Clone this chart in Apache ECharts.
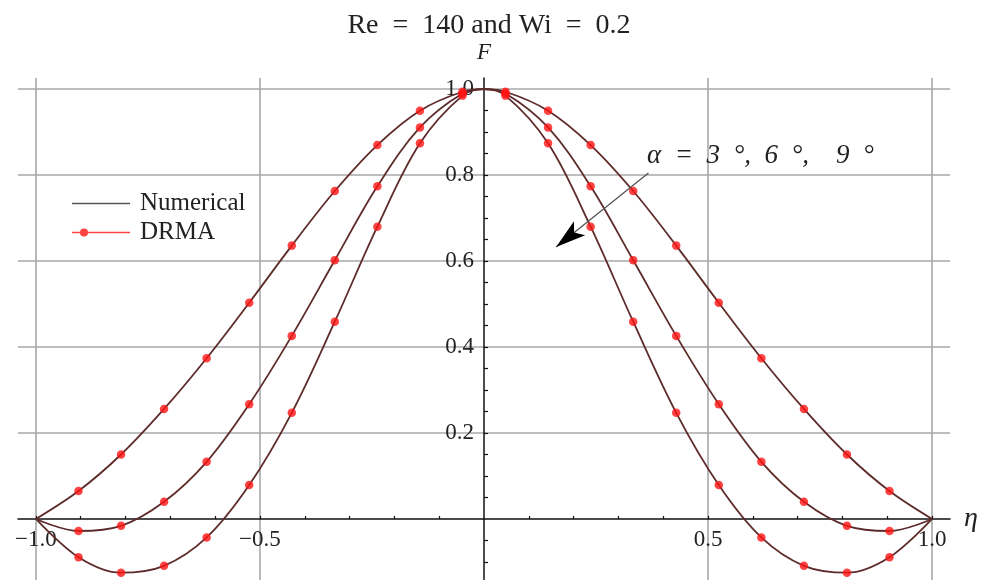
<!DOCTYPE html>
<html>
<head>
<meta charset="utf-8">
<script src="https://cdn.jsdelivr.net/npm/echarts@6/dist/echarts.min.js"></script>
<style>
  html, body { margin: 0; padding: 0; background: #ffffff; }
  #chart { width: 990px; height: 580px; }
</style>
</head>
<body>
<div id="chart"></div>
<script>
// Collocation points of the DRMA solution (eta = ±(2k+1)/21)
const etaNodes = [-0.905, -0.810, -0.714, -0.619, -0.524, -0.429, -0.333, -0.238, -0.143, -0.048,
                   0.048,  0.143,  0.238,  0.333,  0.429,  0.524,  0.619,  0.714,  0.810,  0.905];

// DRMA velocity profile F(eta) for alpha = 3, 6, 9 degrees
const drma3 = [0.065, 0.150, 0.256, 0.374, 0.503, 0.636, 0.763, 0.870, 0.950, 0.994,
               0.994, 0.950, 0.870, 0.763, 0.636, 0.503, 0.374, 0.256, 0.150, 0.065];
const drma6 = [-0.028, -0.016, 0.040, 0.133, 0.267, 0.426, 0.602, 0.774, 0.911, 0.990,
                0.990,  0.911, 0.774, 0.602, 0.426, 0.267, 0.133, 0.040, -0.016, -0.028];
const drma9 = [-0.089, -0.125, -0.109, -0.043, 0.079, 0.247, 0.459, 0.680, 0.874, 0.985,
                0.985,  0.874,  0.680,  0.459, 0.247, 0.079, -0.043, -0.109, -0.125, -0.089];

// Numerical solution, sampled on the walls, the centreline and the nodes
const etaLine = [-1.0, -0.905, -0.810, -0.714, -0.619, -0.524, -0.429, -0.333, -0.238, -0.143, -0.048, 0.0,
                  0.048, 0.143, 0.238, 0.333, 0.429, 0.524, 0.619, 0.714, 0.810, 0.905, 1.0];
const numerical3 = [0, 0.065, 0.150, 0.256, 0.374, 0.503, 0.636, 0.763, 0.870, 0.950, 0.994, 1.0,
                    0.994, 0.950, 0.870, 0.763, 0.636, 0.503, 0.374, 0.256, 0.150, 0.065, 0];
const numerical6 = [0, -0.028, -0.016, 0.040, 0.133, 0.267, 0.426, 0.602, 0.774, 0.911, 0.990, 1.0,
                    0.990, 0.911, 0.774, 0.602, 0.426, 0.267, 0.133, 0.040, -0.016, -0.028, 0];
const numerical9 = [0, -0.089, -0.125, -0.109, -0.043, 0.079, 0.247, 0.459, 0.680, 0.874, 0.985, 1.0,
                    0.985, 0.874, 0.680, 0.459, 0.247, 0.079, -0.043, -0.109, -0.125, -0.089, 0];

// Axis ticks, labels and grid lines
const xTickValues = [-1.0, -0.9, -0.8, -0.7, -0.6, -0.5, -0.4, -0.3, -0.2, -0.1, 0.1, 0.2, 0.3, 0.4, 0.5, 0.6, 0.7, 0.8, 0.9, 1.0];
const xLabelValues = [-1.0, -0.5, 0.5, 1.0];
const yTickValues = [-0.1, -0.05, 0.05, 0.1, 0.15, 0.2, 0.25, 0.3, 0.35, 0.4, 0.45, 0.5, 0.55, 0.6, 0.65, 0.7, 0.75, 0.8, 0.85, 0.9, 0.95, 1.0];
const yLabelValues = [0.2, 0.4, 0.6, 0.8, 1.0];
const gridXValues = [-1.0, -0.5, 0.5, 1.0];
const gridYValues = [0.2, 0.4, 0.6, 0.8, 1.0];

// Arrow pointing in the direction of increasing alpha
const arrowFrom = [0.367, 0.805];
const arrowTo = [0.161, 0.633];

// Plot area and axis ranges
const GRID = { left: 18, right: 40, top: 78, bottom: 0 };
const X_RANGE = [-1.04, 1.04];
const Y_RANGE = [-0.142, 1.026];
const W = 990, H = 580;
const plotW = W - GRID.left - GRID.right;
const plotH = H - GRID.top - GRID.bottom;
// Axes cross at the origin: shift them inward from the grid border
const yAxisOffset = -plotW * (0 - X_RANGE[0]) / (X_RANGE[1] - X_RANGE[0]);
const xAxisOffset = -plotH * (0 - Y_RANGE[0]) / (Y_RANGE[1] - Y_RANGE[0]);

const SERIF = '"Liberation Serif", "Times New Roman", serif';
const CURVE = '#5e2b2b';
const DOT = '#ff1414';
const EN = '\u2002';

const zip = (xs, ys) => xs.map((x, i) => [x, ys[i]]);
const fmt = v => (v < 0 ? '\u2212' : '') + Math.abs(v).toFixed(1);

function numericalSeries(values) {
  return {
    type: 'line', name: 'Numerical', data: zip(etaLine, values),
    smooth: 0.35, symbol: 'none', z: 2,
    itemStyle: { color: CURVE },
    lineStyle: { color: CURVE, width: 1.8 }
  };
}
function drmaSeries(values) {
  return {
    type: 'scatter', name: 'DRMA', data: zip(etaNodes, values),
    symbol: 'circle', symbolSize: 8.5, z: 3,
    itemStyle: { color: DOT }
  };
}

const chart = echarts.init(document.getElementById('chart'), null, { renderer: 'canvas' });

chart.setOption({
  animation: false,
  backgroundColor: '#ffffff',
  title: {
    text: 'Re' + EN + '=' + EN + '140 and Wi' + EN + '=' + EN + '0.2',
    left: 484, top: 7, textAlign: 'center',
    textStyle: { fontFamily: SERIF, fontSize: 28, fontWeight: 'normal', color: '#222' }
  },
  legend: {
    orient: 'vertical', left: 72, top: 191, padding: 0,
    itemWidth: 58, itemHeight: 10, itemGap: 4,
    selectedMode: false,
    textStyle: { fontFamily: SERIF, fontSize: 25, color: '#222', padding: [0, 0, 0, 5] },
    data: [
      { name: 'Numerical',
        icon: 'path://M0,0h0.01v0.01h-0.01Z M0,4.2H58V5.8H0Z M57.99,9.99h0.01v0.01h-0.01Z',
        itemStyle: { color: '#555555', borderWidth: 0 } },
      { name: 'DRMA',
        icon: 'path://M0,0h0.01v0.01h-0.01Z M0,4.3H58V5.7H0Z M8,5a4,4 0 1,1 8,0a4,4 0 1,1 -8,0Z M57.99,9.99h0.01v0.01h-0.01Z',
        itemStyle: { color: DOT, borderWidth: 0 } }
    ]
  },
  grid: { left: GRID.left, right: GRID.right, top: GRID.top, bottom: GRID.bottom,
          containLabel: false, outerBoundsMode: 'none' },
  xAxis: {
    type: 'value', min: X_RANGE[0], max: X_RANGE[1],
    position: 'bottom', offset: xAxisOffset,
    name: '\u03b7', nameLocation: 'end', nameGap: 14,
    nameTextStyle: { fontFamily: SERIF, fontStyle: 'italic', fontSize: 28, color: '#222' },
    axisLine: { onZero: false, lineStyle: { color: '#111', width: 1.5 } },
    axisTick: { inside: true, length: 3, customValues: xTickValues, lineStyle: { color: '#111', width: 1.2 } },
    axisLabel: { customValues: xLabelValues, formatter: fmt, margin: 9,
                 fontFamily: SERIF, fontSize: 23, color: '#222' },
    splitLine: { show: false }
  },
  yAxis: {
    type: 'value', min: Y_RANGE[0], max: Y_RANGE[1],
    position: 'left', offset: yAxisOffset,
    name: 'F', nameLocation: 'end', nameGap: 14,
    nameTextStyle: { fontFamily: SERIF, fontStyle: 'italic', fontSize: 23, color: '#222' },
    axisLine: { onZero: false, lineStyle: { color: '#111', width: 1.5 } },
    axisTick: { inside: true, length: 4, customValues: yTickValues, lineStyle: { color: '#111', width: 1.2 } },
    axisLabel: { customValues: yLabelValues, formatter: v => v.toFixed(1), margin: 10,
                 fontFamily: SERIF, fontSize: 23, color: '#222' },
    splitLine: { show: false }
  },
  graphic: [{
    id: 'alphaText', type: 'text', x: 647, y: 156, z: 10,
    style: {
      text: '\u03b1' + EN + '=' + EN + '3' + EN + '\u00b0,' + EN + '6' + EN + '\u00b0,' + EN + EN + '9' + EN + '\u00b0',
      font: 'italic 27px ' + SERIF, fill: '#222', align: 'left', verticalAlign: 'middle'
    }
  }],
  series: [
    {
      type: 'line', name: 'gridlines', data: [], silent: true,
      markLine: {
        silent: true, symbol: 'none', z: -1,
        label: { show: false },
        lineStyle: { color: '#a8a8a8', width: 1.6, type: 'solid' },
        emphasis: { disabled: true },
        data: gridXValues.map(v => ({ xAxis: v })).concat(gridYValues.map(v => ({ yAxis: v })))
      }
    },
    numericalSeries(numerical3),
    numericalSeries(numerical6),
    numericalSeries(numerical9),
    drmaSeries(drma3),
    drmaSeries(drma6),
    drmaSeries(drma9),
    {
      type: 'line', name: 'arrow', data: [], silent: true,
      markLine: {
        silent: true, z: 6, symbol: 'none',
        label: { show: false },
        lineStyle: { color: '#555', width: 1.3, type: 'solid' },
        emphasis: { disabled: true },
        data: [[{ coord: arrowFrom }, { coord: arrowTo }]]
      }
    }
  ]
});

// Filled arrowhead at the end of the alpha arrow, placed through the axis scales
(function drawArrowHead() {
  const p1 = chart.convertToPixel({ gridIndex: 0 }, arrowFrom);
  const p2 = chart.convertToPixel({ gridIndex: 0 }, arrowTo);
  const dx = p2[0] - p1[0], dy = p2[1] - p1[1];
  const len = Math.hypot(dx, dy);
  const ux = dx / len, uy = dy / len;
  const nx = -uy, ny = ux;
  const L = 30, half = 9, notch = 7;
  const bx = p2[0] - ux * L, by = p2[1] - uy * L;
  chart.setOption({
    graphic: [{
      id: 'arrowHead', type: 'polygon', z: 11, silent: true,
      shape: { points: [
        [p2[0], p2[1]],
        [bx + nx * half, by + ny * half],
        [p2[0] - ux * (L - notch), p2[1] - uy * (L - notch)],
        [bx - nx * half, by - ny * half]
      ] },
      style: { fill: '#000' }
    }]
  });
})();
</script>
</body>
</html>
